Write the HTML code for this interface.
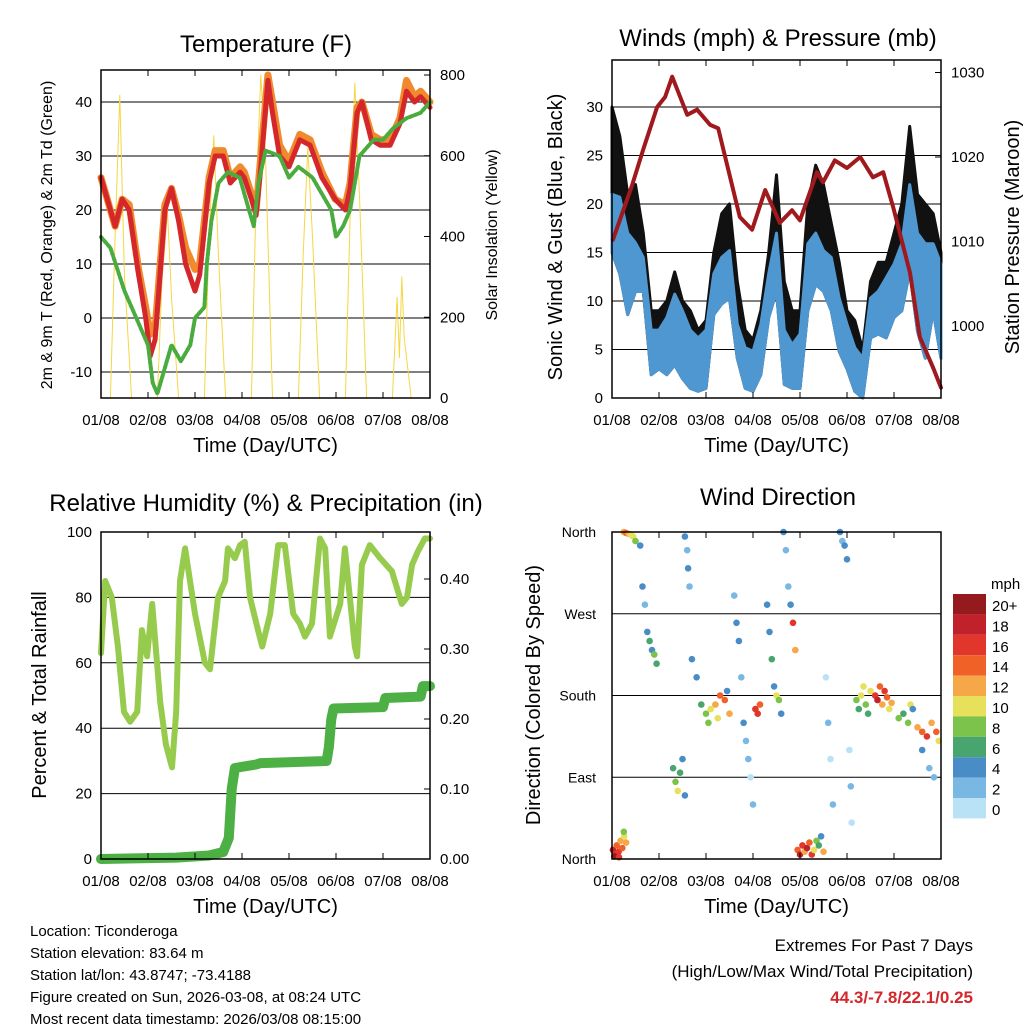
<!DOCTYPE html>
<html><head><meta charset="utf-8"><style>
body{margin:0;background:#fff}
svg{display:block;font-family:"Liberation Sans",sans-serif}
</style></head><body>
<svg id="s" width="1024" height="1024" viewBox="0 0 1024 1024"></svg>
<script>
// ===== Temperature data (days, degF)
const tT=[0,0.3,0.45,0.6,0.8,0.95,1.05,1.15,1.36,1.5,1.65,1.8,2.0,2.1,2.3,2.43,2.6,2.75,2.96,3.05,3.2,3.3,3.4,3.55,3.65,3.8,4.0,4.23,4.45,4.7,4.98,5.2,5.3,5.45,5.55,5.75,5.94,6.15,6.36,6.5,6.67,6.8,7];
const redT=[26,17,22,20,8,0,-7,-4,20,24,18,10,5,8,25,30,30,25,27,26,22,19,28,44,38,30,28,33,32,26,22,20,24,38,40,33,32,32,36,42,40,41,39];
const orangeT=[26,17,22,21,9,2,-3,-2,21,24,19,13,9,10,26,31,31,26,28,27,23,20,30,45,40,32,29,34,33,27,22,21,25,39,40,34,33,33,37,44,41,42,40];
const tD=[0,0.2,0.5,0.75,1.0,1.1,1.2,1.5,1.7,1.9,2.0,2.2,2.25,2.35,2.5,2.7,2.95,3.15,3.25,3.35,3.5,3.8,4.0,4.2,4.5,4.9,5.0,5.15,5.3,5.5,5.8,6.0,6.2,6.5,6.8,7];
const dewT=[15,13,5,0,-5,-12,-14,-5,-8,-5,0,2,10,18,25,27,26,20,17,25,31,30,26,28,26,20,15,17,20,30,33,33,35,37,38,40];
const tS=[0,0.2,0.3,0.4,0.5,0.65,1.2,1.3,1.4,1.5,1.65,2.2,2.3,2.4,2.5,2.65,3.2,3.3,3.4,3.5,3.65,4.2,4.3,4.4,4.5,4.65,5.2,5.3,5.4,5.5,5.65,6.2,6.3,6.35,6.4,6.45,6.6,7];
const solar=[0,0,400,750,300,0,0,300,500,250,0,0,400,650,350,0,0,500,800,600,0,0,350,620,400,0,0,450,780,500,0,0,250,100,300,150,0,0];
// ===== Winds (every 4 h): band top/bottom & gust top; pressure
const windHi=[21,20.7,17,16,14.5,7,7,8.3,10.7,9,7,6.2,7,12.8,14.5,15.2,7.6,5.2,4.8,7.6,12.8,17,7,5.5,6.6,15.9,17,15.2,14.5,10.3,7.6,5.2,4.1,10.3,11,12.4,13.8,15.9,22,17,15.9,15.9,13.8];
const windLo=[15,12.8,8.6,11,11,2.4,3,2.4,3.4,2,1,0.7,1,8.6,9.7,10.3,4.1,1,0.7,2.4,8.3,11,1.4,1,1,9,11.7,11,9,4.8,3,0.7,0,6.2,6.6,6.2,8.3,9,13.1,6.9,4.1,9,4.1];
const gust=[30,27,21,22,17,9,9,10,13,10,9,7,8,15,19,20,12,7,6,9,15,23,12,9,9,20,24,22,18,14,9,8,5,12,14,14,17,20,28,21,20,19,15];
const tP=[0.02,0.43,0.66,0.96,1.13,1.28,1.6,1.81,2.09,2.26,2.72,2.98,3.26,3.57,3.83,4.0,4.36,4.49,4.74,5.0,5.28,5.55,5.77,5.98,6.34,6.55,6.83,7.0];
const pres=[1010.2,1016.7,1020.8,1025.9,1027.1,1029.5,1025,1025.6,1023.8,1023.4,1012.9,1011.4,1016.1,1012.2,1013.7,1012.5,1018.2,1017,1019.6,1018.7,1020,1017.6,1018.2,1014.1,1006.3,998.7,995.1,992.7];
// ===== Humidity & precipitation
const tH=[0,0.09,0.23,0.36,0.49,0.62,0.77,0.87,0.98,1.09,1.26,1.38,1.51,1.6,1.68,1.79,2.0,2.21,2.32,2.49,2.64,2.7,2.85,2.96,3.06,3.17,3.34,3.43,3.6,3.77,3.91,4.09,4.23,4.34,4.49,4.66,4.77,4.87,5.09,5.19,5.4,5.45,5.55,5.72,5.94,6.19,6.4,6.51,6.62,6.74,6.89,7];
const rh=[63,85,80,65,45,42,45,70,62,78,48,35,28,45,85,95,75,60,58,80,85,95,92,96,97,80,70,65,75,96,96,75,72,68,72,98,95,68,78,95,65,62,90,96,92,88,78,80,90,94,98,98];
const tR=[0,1.6,2.3,2.6,2.72,2.78,2.85,3.3,3.4,4.8,4.85,4.9,4.95,6.0,6.05,6.8,6.85,7];
const rain=[0,0.002,0.005,0.01,0.03,0.1,0.13,0.135,0.137,0.14,0.16,0.2,0.215,0.217,0.23,0.232,0.247,0.247];
// ===== Wind direction scatter
const wdT=[0.02,0.06,0.1,0.14,0.18,0.22,0.26,0.3,0.05,0.15,0.25, 0.25,0.3,0.35,0.4,0.45,0.5, 0.6,0.65,0.7,0.75,0.8,0.85,0.9,0.95, 1.3,1.35,1.4,1.45,1.5,1.55, 1.55,1.6,1.62,1.65, 1.7,1.8,1.9,2.0,2.05, 2.1,2.2,2.25,2.3,2.4,2.5,2.45, 2.6,2.65,2.7,2.75,2.8,2.85,2.9,2.95,3.0, 3.05,3.1,3.15, 3.3,3.35,3.4,3.45,3.5,3.55,3.6, 3.65,3.7,3.75,3.8,3.85,3.9, 3.95,4.0,4.05,4.1,4.15,4.2,4.25,4.3,4.35,4.4,4.45,4.5, 4.55,4.6,4.65,4.7, 4.85,4.9,4.95,5.0, 5.05,5.08,5.1, 5.2,5.25,5.3,5.35,5.4,5.45,5.5, 5.6,5.65,5.7,5.75,5.8,5.85,5.9,5.95, 6.1,6.2,6.3,6.35,6.4, 6.5,6.6,6.7,6.8,6.9,6.95,6.75,6.85,6.6];
const wdDir=[10,5,15,8,20,12,25,18,3,2,30, 360,359,358,357,355,350, 345,300,280,250,240,230,225,215, 100,85,75,95,110,70, 355,340,320,300, 220,200,170,160,150, 165,170,155,180,175,160,185, 290,260,240,200,150,130,110,90,60, 165,160,170, 280,250,220,190,180,175,160, 360,340,300,280,260,230, 10,5,15,8,12,18,5,10,20,15,25,8, 200,150,110,60, 360,350,345,330, 120,80,40, 175,165,180,190,170,160,185, 180,175,190,170,185,178,165,172, 155,160,150,170,165, 145,140,135,150,140,130,100,90,120];
const wdSpd=[18,16,14,17,12,15,10,13,20,16,8, 12,14,12,10,11,8, 4,4,2,4,6,4,8,6, 6,8,10,6,4,4, 4,2,4,2, 4,4,6,8,8, 10,12,10,14,14,12,4, 2,4,4,2,4,2,2,0,2, 16,16,14, 4,4,6,4,10,8,4, 4,2,2,4,16,12, 14,18,16,12,18,14,16,10,8,6,4,12, 0,2,0,2, 4,2,4,4, 0,2,0, 8,6,10,10,8,6,10, 16,18,14,12,16,14,10,12, 8,6,8,10,4, 12,14,16,12,14,10,2,2,4];
const binLabels=["20+","18","16","14","12","10","8","6","4","2","0"];
const binColors=["#951a1d","#c1212a","#e0362b","#f06128","#f6a747","#e6e05b","#7bc34b","#48a56e","#4a8dc6","#7ab8e4","#b9e2f6"];
const days=["01/08","02/08","03/08","04/08","05/08","06/08","07/08","08/08"];

const NS="http://www.w3.org/2000/svg";
const S=document.getElementById('s');
function el(tag,at,parent){const e=document.createElementNS(NS,tag);for(const k in at)e.setAttribute(k,at[k]);(parent||S).appendChild(e);return e;}
function txt(x,y,s,size,anchor,extra){const e=el('text',Object.assign({x:x,y:y,'font-size':size,'text-anchor':anchor||'middle',fill:'#000'},extra||{}));e.textContent=s;return e;}
function lin(d0,d1,p0,p1){return v=>p0+(v-d0)*(p1-p0)/(d1-d0);}
function poly(ts,vs,X,Y,stroke,w,name,extra){
  const pts=ts.map((t,i)=>X(t).toFixed(1)+','+Y(vs[i]).toFixed(1)).join(' ');
  const p=el('polyline',Object.assign({points:pts,fill:'none',stroke:stroke,'stroke-width':w,'stroke-linejoin':'round','stroke-linecap':'round'},extra||{}));
  
  
  return p;
}
function band(ts,hi,lo,X,Y,fill,name){
  const a=ts.map((t,i)=>X(t).toFixed(1)+','+Y(hi[i]).toFixed(1));
  const b=ts.map((t,i)=>X(t).toFixed(1)+','+Y(lo[i]).toFixed(1)).reverse();
  const p=el('polygon',{points:a.concat(b).join(' '),fill:fill,stroke:fill,'stroke-width':3,'stroke-linejoin':'round'});
  
  
  return p;
}
function frame(x0,y0,x1,y1,name){
  const r=el('rect',{x:x0,y:y0,width:x1-x0,height:y1-y0,fill:'none',stroke:'#000','stroke-width':1.5});
  
  
  const X=lin(0,7,x0,x1);
  days.forEach((d,i)=>{
    const x=X(i);
    el('line',{x1:x,x2:x,y1:y1,y2:y1-6,stroke:'#000','stroke-width':1});
    el('line',{x1:x,x2:x,y1:y0,y2:y0+6,stroke:'#000','stroke-width':1});
    const t=txt(x,y1+27,d,15);
    
    
  });
  const xt=txt((x0+x1)/2,y1+54,'Time (Day/UTC)',20);
  
  
  return X;
}
function hgrid(x0,x1,y){el('line',{x1:x0,x2:x1,y1:y,y2:y,stroke:'#000','stroke-width':1});}
function rot(x,y,s,size,name){const t=txt(x,y,s,size,'middle',{transform:`rotate(-90 ${x} ${y})`});return t;}

// ---------- Panel 1: Temperature
{
 const x0=101,x1=430,y0=70,y1=398;
 const Y=lin(-10,40,372,102), YS=lin(0,800,398,75);
 [-10,0,10,20,30,40].forEach(v=>{hgrid(x0,x1,Y(v));txt(x0-9,Y(v)+5,String(v),15,'end');});
 [0,200,400,600,800].forEach(v=>{el('line',{x1:x1,x2:x1-6,y1:YS(v),y2:YS(v),stroke:'#000'});txt(x1+10,YS(v)+5,String(v),15,'start');});
 const X=lin(0,7,x0,x1);
 poly(tS,solar,X,YS,'#f5d742',1,'solar-insolation-line');
 poly(tT,orangeT,X,Y,'#f08a2c',7,'temp-9m-line');
 poly(tT,redT,X,Y,'#d4272b',5,'temp-2m-line');
 poly(tD,dewT,X,Y,'#4aab3f',4,'dewpoint-line',{'stroke-dasharray':'3 2'});
 frame(x0,y0,x1,y1,'temperature-plot-frame');
 const t=txt(266,52,'Temperature (F)',24);
 rot(52,235,'2m & 9m T (Red, Orange) & 2m Td (Green)',16,'temperature-y-axis-title');
 rot(497,235,'Solar Insolation (Yellow)',16,'solar-y-axis-title');
}
// ---------- Panel 2: Winds & pressure
{
 const x0=612,x1=941,y0=60,y1=398;
 const Y=lin(0,30,398,107), YP=lin(1000,1020,326,157);
 [0,5,10,15,20,25,30].forEach(v=>{if(v>0)hgrid(x0,x1,Y(v));txt(x0-9,Y(v)+5,String(v),15,'end');});
 [1000,1010,1020,1030].forEach(v=>{el('line',{x1:x1,x2:x1-6,y1:YP(v),y2:YP(v),stroke:'#000'});txt(x1+10,YP(v)+5,String(v),15,'start');});
 const X=lin(0,7,x0,x1);
 const tW=windHi.map((_,i)=>i/6);
 band(tW,gust,windLo,X,Y,'#111','gust-band');
 band(tW,windHi,windLo,X,Y,'#4f97d1','sonic-wind-band');
 poly(tP,pres,X,YP,'#a0191d',4,'pressure-line');
 frame(x0,y0,x1,y1,'winds-plot-frame');
 const t=txt(778,46,'Winds (mph) & Pressure (mb)',24);
 rot(562,237,'Sonic Wind & Gust (Blue, Black)',20,'wind-y-axis-title');
 rot(1019,237,'Station Pressure (Maroon)',20,'pressure-y-axis-title');
}
// ---------- Panel 3: RH & precip
{
 const x0=101,x1=430,y0=532,y1=859;
 const Y=lin(0,100,859,532), YR=lin(0,0.4,859,579);
 [0,20,40,60,80,100].forEach(v=>{if(v>0&&v<100)hgrid(x0,x1,Y(v));txt(x0-9,Y(v)+5,String(v),15,'end');});
 [0,0.1,0.2,0.3,0.4].forEach(v=>{el('line',{x1:x1,x2:x1-6,y1:YR(v),y2:YR(v),stroke:'#000'});txt(x1+10,YR(v)+5,v.toFixed(2),15,'start');});
 const X=lin(0,7,x0,x1);
 poly(tH,rh,X,Y,'#97cb4d',6,'humidity-line');
 poly(tR,rain,X,YR,'#4cb045',10,'precip-line');
 frame(x0,y0,x1,y1,'humidity-plot-frame');
 const t=txt(266,511,'Relative Humidity (%) & Precipitation (in)',24);
 rot(46,695,'Percent & Total Rainfall',20,'humidity-y-axis-title');
}
// ---------- Panel 4: Wind direction
{
 const x0=612,x1=941,y0=532,y1=859;
 const Y=lin(0,360,859,532);
 const names=['North','East','South','West','North'];
 [0,90,180,270,360].forEach((v,i)=>{if(v>0&&v<360)hgrid(x0,x1,Y(v));txt(x0-16,Y(v)+5,names[i],14,'end');});
 const X=lin(0,7,x0,x1);
 wdT.forEach((t,i)=>{
  const b=Math.min(10,Math.floor(wdSpd[i]/2));
  const c=el('circle',{cx:X(t).toFixed(1),cy:Y(wdDir[i]).toFixed(1),r:3.3,fill:binColors[10-b]});
  
  
 });
 frame(x0,y0,x1,y1,'wind-direction-plot-frame');
 const t=txt(778,505,'Wind Direction',24);
 rot(540,695,'Direction (Colored By Speed)',20,'direction-y-axis-title');
 const ct=txt(991,589,'mph',15,'start');
 binLabels.forEach((l,i)=>{
  const r=el('rect',{x:953,y:594+i*20.4,width:33,height:20.4,fill:binColors[i]});
  
  
  txt(992,594+i*20.4+17,l,15,'start');
 });
}
// ---------- Footer
["Location: Ticonderoga","Station elevation: 83.64 m","Station lat/lon: 43.8747; -73.4188","Figure created on Sun, 2026-03-08, at 08:24 UTC","Most recent data timestamp: 2026/03/08 08:15:00"].forEach((s,i)=>{
 const t=txt(30,936+i*22,s,15,'start');
});
{const a=txt(973,951,'Extremes For Past 7 Days',17,'end');
 const b=txt(973,977,'(High/Low/Max Wind/Total Precipitation)',17,'end');
 const c=txt(973,1003,'44.3/-7.8/22.1/0.25',17,'end',{fill:'#d4272b','font-weight':'bold'});}
</script>
</body></html>
